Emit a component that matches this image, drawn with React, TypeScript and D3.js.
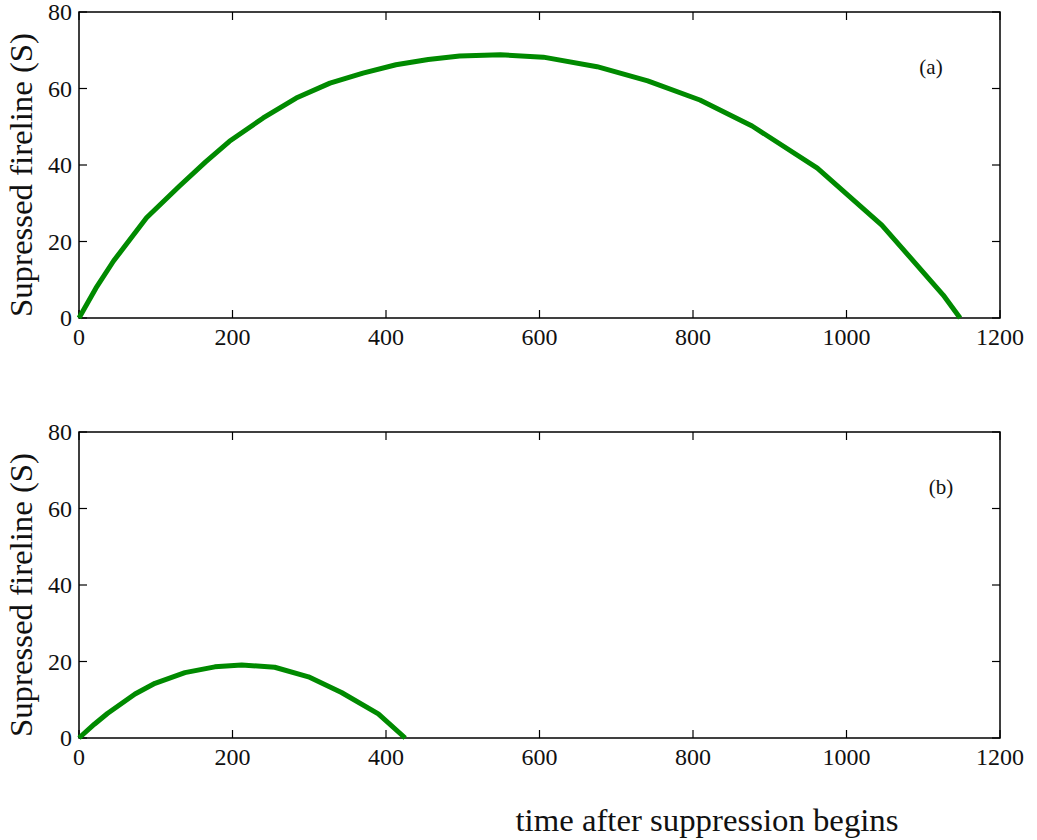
import * as d3 from "d3";
import { useEffect, useRef } from "react";

// panel (a)
const timeA = [0, 22, 45, 88, 131, 165, 196, 240, 283, 327, 370, 413, 455, 496, 549, 605, 675, 741, 809, 877, 962, 1046, 1126, 1148];
const fireA = [0, 7.8, 14.9, 26.2, 34.5, 40.8, 46.2, 52.3, 57.5, 61.4, 64.0, 66.2, 67.6, 68.5, 68.8, 68.2, 65.7, 62.0, 57.0, 50.2, 39.2, 24.3, 6.0, 0];

// panel (b)
const timeB = [0, 20, 37, 73, 99, 138, 177, 212, 255, 299, 342, 390, 425];
const fireB = [0, 3.6, 6.4, 11.5, 14.3, 17.1, 18.6, 19.1, 18.5, 16.0, 11.9, 6.3, 0];

const xTicks = [0, 200, 400, 600, 800, 1000, 1200];
const yTicks = [0, 20, 40, 60, 80];

const FONT = "Liberation Serif, Times New Roman, serif";

export default function App() {
  const ref = useRef<SVGSVGElement>(null);

  useEffect(() => {
    const svg = d3.select(ref.current);
    svg.selectAll("*").remove();

    const left = 79,
      right = 1000;

    const panels = [
      { top: 12, bottom: 318, xs: timeA, ys: fireA, tag: "(a)", tagX: 931, tagY: 67 },
      { top: 432, bottom: 738, xs: timeB, ys: fireB, tag: "(b)", tagX: 941, tagY: 487 },
    ];

    panels.forEach((p) => {
      const x = d3.scaleLinear().domain([0, 1200]).range([left, right]);
      const y = d3.scaleLinear().domain([0, 80]).range([p.bottom, p.top]);
      const g = svg.append("g");

      // ticks pointing inward on all four sides
      const tk = 8;
      xTicks.forEach((t) => {
        g.append("line")
          .attr("x1", x(t)).attr("x2", x(t))
          .attr("y1", p.bottom).attr("y2", p.bottom - tk)
          .attr("stroke", "#000").attr("stroke-width", 1.2);
        g.append("line")
          .attr("x1", x(t)).attr("x2", x(t))
          .attr("y1", p.top).attr("y2", p.top + tk)
          .attr("stroke", "#000").attr("stroke-width", 1.2);
        g.append("text")
          .attr("x", x(t))
          .attr("y", p.bottom + 27)
          .attr("text-anchor", "middle")
          .style("font-family", FONT)
          .style("font-size", "24px")
          .attr("fill", "#111")
          .text(t);
      });
      yTicks.forEach((t) => {
        g.append("line")
          .attr("x1", left).attr("x2", left + tk)
          .attr("y1", y(t)).attr("y2", y(t))
          .attr("stroke", "#000").attr("stroke-width", 1.2);
        g.append("line")
          .attr("x1", right).attr("x2", right - tk)
          .attr("y1", y(t)).attr("y2", y(t))
          .attr("stroke", "#000").attr("stroke-width", 1.2);
        g.append("text")
          .attr("x", 72)
          .attr("y", y(t))
          .attr("dy", "0.35em")
          .attr("text-anchor", "end")
          .style("font-family", FONT)
          .style("font-size", "24px")
          .attr("fill", "#111")
          .text(t);
      });

      g.append("rect")
        .attr("x", left).attr("y", p.top)
        .attr("width", right - left).attr("height", p.bottom - p.top)
        .attr("fill", "none").attr("stroke", "#000").attr("stroke-width", 1.5);

      const line = d3
        .line<number>()
        .x((_, i) => x(p.xs[i]))
        .y((d) => y(d));

      g.append("path")
        .datum(p.ys)
        .attr("d", line)
        .attr("fill", "none")
        .attr("stroke", "#008a00")
        .attr("stroke-width", 5)
        .attr("stroke-linejoin", "round");

      g.append("text")
        .attr("x", p.tagX).attr("y", p.tagY)
        .attr("dy", "0.35em")
        .attr("text-anchor", "middle")
        .style("font-family", FONT)
        .style("font-size", "21px")
        .attr("fill", "#111")
        .text(p.tag);

      g.append("text")
        .attr("transform", `translate(32,${(p.top + p.bottom) / 2 + 10}) rotate(-90)`)
        .attr("text-anchor", "middle")
        .style("font-family", FONT)
        .style("font-size", "31px")
        .attr("textLength", 284)
        .attr("lengthAdjust", "spacingAndGlyphs")
        .attr("fill", "#111")
        .text("Supressed fireline (S)");
    });

    svg.append("text")
      .attr("x", 707)
      .attr("y", 831)
      .attr("text-anchor", "middle")
      .style("font-family", FONT)
      .style("font-size", "31px")
      .attr("textLength", 383)
      .attr("lengthAdjust", "spacingAndGlyphs")
      .attr("fill", "#111")
      .text("time after suppression begins");
  }, []);

  return (
    <svg
      ref={ref}
      width={1037}
      height={840}
      style={{ position: "absolute", left: 0, top: 0, background: "#fff" }}
    />
  );
}
